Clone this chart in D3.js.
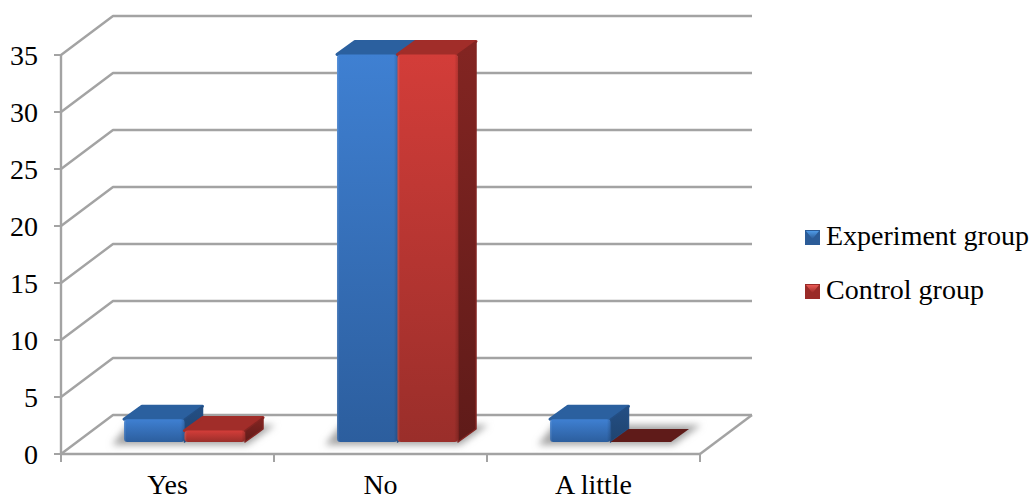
<!DOCTYPE html>
<html>
<head>
<meta charset="utf-8">
<script src="https://cdn.jsdelivr.net/npm/d3@7"></script>
<style>
html,body{margin:0;padding:0;background:#fff;overflow:hidden}
text{font-family:"Liberation Serif","Times New Roman",serif;fill:#000}
</style>
</head>
<body>
<svg id="chart" width="1032" height="500"></svg>
<script>
const categories = ["Yes", "No", "A little"];
const seriesNames = ["Experiment group", "Control group"];
const experimentValues = [2, 34, 2];
const controlValues = [1, 34, 0];
const yTicks = [0, 5, 10, 15, 20, 25, 30, 35];

const palettes = [
  {key:"blue", hi:"#3f80d2", lo:"#2c5e9e", top:"#2b609f", side:"#244f84", sideLo:"#1f4470", swHi:"#4f9be8", swLo:"#2c5c98"},
  {key:"red",  hi:"#d33d39", lo:"#9a2e2a", top:"#a12d29", side:"#832522", sideLo:"#5f1b19", swHi:"#ea5a55", swLo:"#9a2b28"}
];

const svg = d3.select("#chart");
const defs = svg.append("defs");

// Front plane of the 3D box and the oblique offset of the back wall
const x = d3.scaleBand().domain(categories).range([61, 700]);
const y = d3.scaleLinear().domain([0, 35]).range([454, 55]);
const inner = d3.scaleBand().domain(seriesNames).range([0, x.bandwidth()]).paddingOuter(0.76).paddingInner(0);
const depthX = 52, depthY = -39;
// Bars stand a little way in from the floor's front edge and are one unit of depth deep
const barInsetX = 17, barInsetY = -12, barDepthX = 18, barDepthY = -13;
const P = (px, py, d) => [px + depthX * d, py + depthY * d];
const poly = pts => pts.map(p => p.join(",")).join(" ");

const GRID = "#a3a3a3";
const FONT = 28;

palettes.forEach(c => {
  const front = defs.append("linearGradient").attr("id", "front-" + c.key).attr("x1", 0).attr("x2", 0).attr("y1", 0).attr("y2", 1);
  front.append("stop").attr("offset", 0).attr("stop-color", c.hi);
  front.append("stop").attr("offset", 1).attr("stop-color", c.lo);
  const side = defs.append("linearGradient").attr("id", "side-" + c.key).attr("x1", 0).attr("x2", 0).attr("y1", 0).attr("y2", 1);
  side.append("stop").attr("offset", 0).attr("stop-color", c.side);
  side.append("stop").attr("offset", 1).attr("stop-color", c.sideLo);
  const sw = defs.append("linearGradient").attr("id", "swatch-" + c.key).attr("x1", 0).attr("x2", 0).attr("y1", 0).attr("y2", 1);
  sw.append("stop").attr("offset", 0).attr("stop-color", c.swHi);
  sw.append("stop").attr("offset", 1).attr("stop-color", c.swLo);
});
defs.append("filter").attr("id", "soft").attr("x", "-20%").attr("y", "-50%").attr("width", "140%").attr("height", "200%")
  .append("feGaussianBlur").attr("stdDeviation", 3.5);
const bevel = defs.append("linearGradient").attr("id", "bevel");
[[0, "#fff", .16], [.04, "#fff", 0], [.94, "#000", 0], [1, "#000", .16]].forEach(s =>
  bevel.append("stop").attr("offset", s[0]).attr("stop-color", s[1]).attr("stop-opacity", s[2]));

// Gridlines on the left and back walls
const grid = svg.append("g").attr("fill", "none").attr("stroke", GRID).attr("stroke-width", 2.4).attr("stroke-linejoin", "round");
yTicks.forEach(t => {
  const a = [x.range()[0], y(t)];
  const b = P(a[0], a[1], 1);
  const c = P(x.range()[1], a[1], 1);
  grid.append("polyline").attr("points", poly([a, b, c]));
});
// Floor edge on the right
grid.append("polyline").attr("points", poly([[x.range()[1], y(0)], P(x.range()[1], y(0), 1)]));

// Value axis
const yAxis = svg.append("g");
yAxis.append("line").attr("x1", 61).attr("x2", 61).attr("y1", y(35)).attr("y2", y(0)).attr("stroke", GRID).attr("stroke-width", 2.4);
yTicks.forEach(t => {
  yAxis.append("line").attr("x1", 54).attr("x2", 61).attr("y1", y(t)).attr("y2", y(t)).attr("stroke", GRID).attr("stroke-width", 2);
  yAxis.append("text").attr("x", 38).attr("y", y(t) + 10).attr("text-anchor", "end").attr("font-size", FONT).text(t);
});

// Category axis
const xAxis = svg.append("g");
xAxis.append("line").attr("x1", x.range()[0]).attr("x2", x.range()[1]).attr("y1", y(0)).attr("y2", y(0)).attr("stroke", GRID).attr("stroke-width", 2.4);
[x.range()[0], ...categories.map(c => x(c) + x.bandwidth())].forEach(v => {
  xAxis.append("line").attr("x1", v).attr("x2", v).attr("y1", y(0)).attr("y2", y(0) + 8).attr("stroke", GRID).attr("stroke-width", 2);
});
categories.forEach(c => {
  xAxis.append("text").attr("x", x(c) + x.bandwidth() / 2).attr("y", 493.5).attr("text-anchor", "middle").attr("font-size", FONT).text(c);
});

// Soft floor shadows, one per category group
const shadows = svg.append("g").attr("filter", "url(#soft)").attr("fill", "#a4a4a4");
categories.forEach(c => {
  const l = x(c) + inner(seriesNames[0]) + barInsetX;
  const r = x(c) + inner(seriesNames[1]) + inner.bandwidth() + barInsetX;
  const fy = y(0) + barInsetY;
  shadows.append("polygon").attr("points", poly([
    [l - 12, fy + 3], [r + 2, fy + 3], [r + 30, fy - 17], [l + 4, fy - 17]
  ]));
});

// Bars: top, side and front faces of each box
const rows = [experimentValues, controlValues];
const bars = svg.append("g");
rows.forEach((values, si) => {
  const c = palettes[si];
  categories.forEach((cat, ci) => {
    const v = values[ci];
    const fx0 = x(cat) + inner(seriesNames[si]) + barInsetX;
    const fx1 = fx0 + inner.bandwidth();
    const fyB = y(0) + barInsetY;
    const fyT = y(v) + barInsetY;
    const dx = barDepthX, dy = barDepthY;
    const g = bars.append("g");
    const topPts = [[fx0, fyT], [fx1, fyT], [fx1 + dx, fyT + dy], [fx0 + dx, fyT + dy]];
    if (v === 0) {
      g.append("polygon").attr("points", poly(topPts)).attr("fill", c.sideLo);
      return;
    }
    g.append("polygon").attr("points", poly(topPts)).attr("fill", c.top)
      .attr("stroke", c.top).attr("stroke-width", 3).attr("stroke-linejoin", "round");
    g.append("polygon").attr("points", poly([[fx1, fyT], [fx1 + dx, fyT + dy], [fx1 + dx, fyB + dy], [fx1, fyB]]))
      .attr("fill", `url(#side-${c.key})`).attr("stroke", c.side).attr("stroke-width", 1.5).attr("stroke-linejoin", "round");
    g.append("rect").attr("x", fx0).attr("y", fyT).attr("width", fx1 - fx0).attr("height", fyB - fyT)
      .attr("rx", 3.5).attr("fill", `url(#front-${c.key})`);
    g.append("rect").attr("x", fx0).attr("y", fyT).attr("width", fx1 - fx0).attr("height", fyB - fyT)
      .attr("rx", 3.5).attr("fill", "url(#bevel)");
  });
});

// Legend
const legendRows = [245, 299];
seriesNames.forEach((name, i) => {
  const base = legendRows[i];
  const c = palettes[i];
  const s = 15, lx = 805, ty = base - 15;
  const g = svg.append("g");
  g.append("rect").attr("x", lx).attr("y", ty).attr("width", s).attr("height", s).attr("fill", c.swLo);
  g.append("polygon").attr("points", poly([[lx + 1, ty + 1], [lx + s - 1, ty + 1], [lx + s / 2, ty + s * .6]])).attr("fill", `url(#swatch-${c.key})`);
  g.append("text").attr("x", 826).attr("y", base).attr("font-size", FONT).text(name);
});
</script>
</body>
</html>
